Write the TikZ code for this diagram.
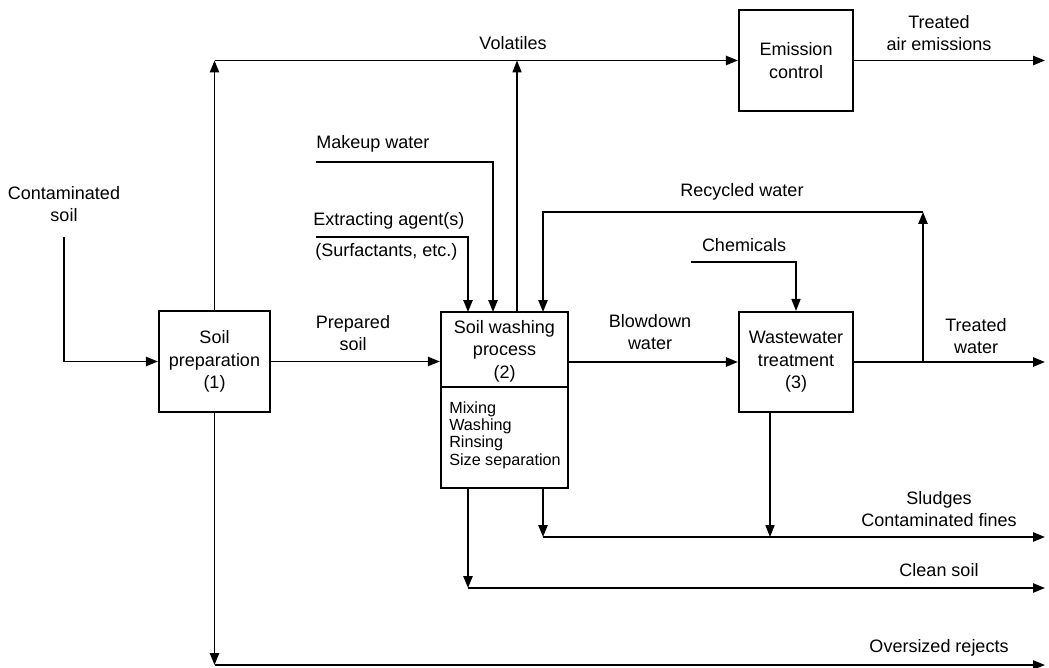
\documentclass[tikz,border=0pt]{standalone}
\usepackage{fontspec}
\setmainfont{Liberation Sans}
\usetikzlibrary{arrows.meta,positioning}

\begin{document}
\begin{tikzpicture}[
            x=0.025cm, y=-0.025cm,
            every node/.style={font=\fontsize{12.8}{16}\selectfont, align=center, inner sep=0pt},
            unit/.style={draw, line width=1.5pt, minimum width=2.85cm, minimum height=2.5cm},
            flow/.style={line width=1.4pt, -{Triangle[length=8.5pt,width=6.5pt]}},
            thinflow/.style={line width=0.8pt, -{Triangle[length=8.5pt,width=6.5pt]}},
            plain/.style={line width=1.4pt}
        ]

        \useasboundingbox (0,0) rectangle (1049,668);

        \node[unit, minimum width=2.775cm, minimum height=2.525cm] (prep) at (214.5,361.5) {Soil\\preparation\\(1)};
        \node[unit, minimum width=3.175cm, minimum height=4.4cm] (wash) at (504.5,400) {};
        \node[unit] (ww) at (796,362) {Wastewater\\treatment\\(3)};
        \node[unit, minimum height=2.525cm] (emis) at (796,60.5) {Emission\\control};

        \node (washtitle) at (504.5,351) {Soil washing\\process\\(2)};
        \node[anchor=west, align=left, font=\fontsize{11.5}{12.4}\selectfont] (washsteps) at (449,435) {Mixing\\Washing\\Rinsing\\Size separation};
        \draw[plain] (wash.west |- 0,387) coordinate (divl) -- (wash.east |- divl);

        \node (contam) at (64,204) {Contaminated\\soil};
        \node (volat) at (513,43) {Volatiles};
        \node (tair) at (939,33) {Treated\\air emissions};
        \node[anchor=west] (makeup) at (316,144) {Makeup water};
        \node[anchor=west] (extract) at (313,221) {Extracting agent(s)};
        \node[anchor=west] (surf) at (315,252) {(Surfactants, etc.)};
        \node (recyc) at (742,192) {Recycled water};
        \node (chem) at (744,245) {Chemicals};
        \node (prepsoil) at (353,333) {Prepared\\soil};
        \node (blow) at (650,332) {Blowdown\\water};
        \node (twater) at (976,336) {Treated\\water};
        \node (sludge) at (939,509) {Sludges\\Contaminated fines};
        \node (clean) at (939,570) {Clean soil};
        \node (over) at (939,648) {Oversized rejects};

        \coordinate (cin) at (64,237);
        \coordinate (mkin) at (316,162);
        \coordinate (exin) at (316,237);
        \coordinate (chin) at (691,262);
        \coordinate (feedA) at (468,312);
        \coordinate (feedB) at (493,312);
        \coordinate (ventW) at (517,312);
        \coordinate (feedC) at (543,312);
        \coordinate (outA) at (468,488);
        \coordinate (outB) at (543,488);
        \coordinate (wwout) at (770,412);
        \coordinate (split) at (923,362);
        \coordinate (rtop) at (923,212);
        \coordinate (rend) at (1045,0);
        \coordinate (slu) at (0,537);
        \coordinate (cls) at (0,588);
        \coordinate (ovr) at (0,665);

        \draw[line width=0.8pt] (cin) -- (cin |- prep.west);
        \draw[flow] (cin |- prep.west) -- (prep.west);
        \draw[flow] (prep.north) -- (prep.north |- emis.west);
        \draw[flow] (prep.north |- emis.west) -- (emis.west);
        \draw[thinflow] (ventW) -- (ventW |- emis.west);
        \draw[flow] (emis.east) -- (emis.east -| rend);

        \draw[flow] (mkin) -| (feedB);
        \draw[flow] (exin) -| (feedA);
        \draw[flow] (prep.east) -- (prep.east -| wash.west);
        \draw[flow] (wash.east |- ww.west) -- (ww.west);
        \draw[thinflow] (chin) -| (ww.north);

        \draw[plain] (ww.east) -- (split);
        \draw[flow] (split) -- (split -| rend);
        \draw[flow] (split) -- (rtop);
        \draw[flow] (rtop) -| (feedC);

        \draw[flow] (outB) -- (outB |- slu);
        \draw[thinflow] (wwout) -- (wwout |- slu);
        \draw[flow] (outB |- slu) -- (slu -| rend);
        \draw[flow] (outA) -- (outA |- cls);
        \draw[flow] (outA |- cls) -- (cls -| rend);
        \draw[flow] (prep.south) -- (prep.south |- ovr);
        \draw[flow] (prep.south |- ovr) -- (ovr -| rend);

    \end{tikzpicture}
\end{document}
